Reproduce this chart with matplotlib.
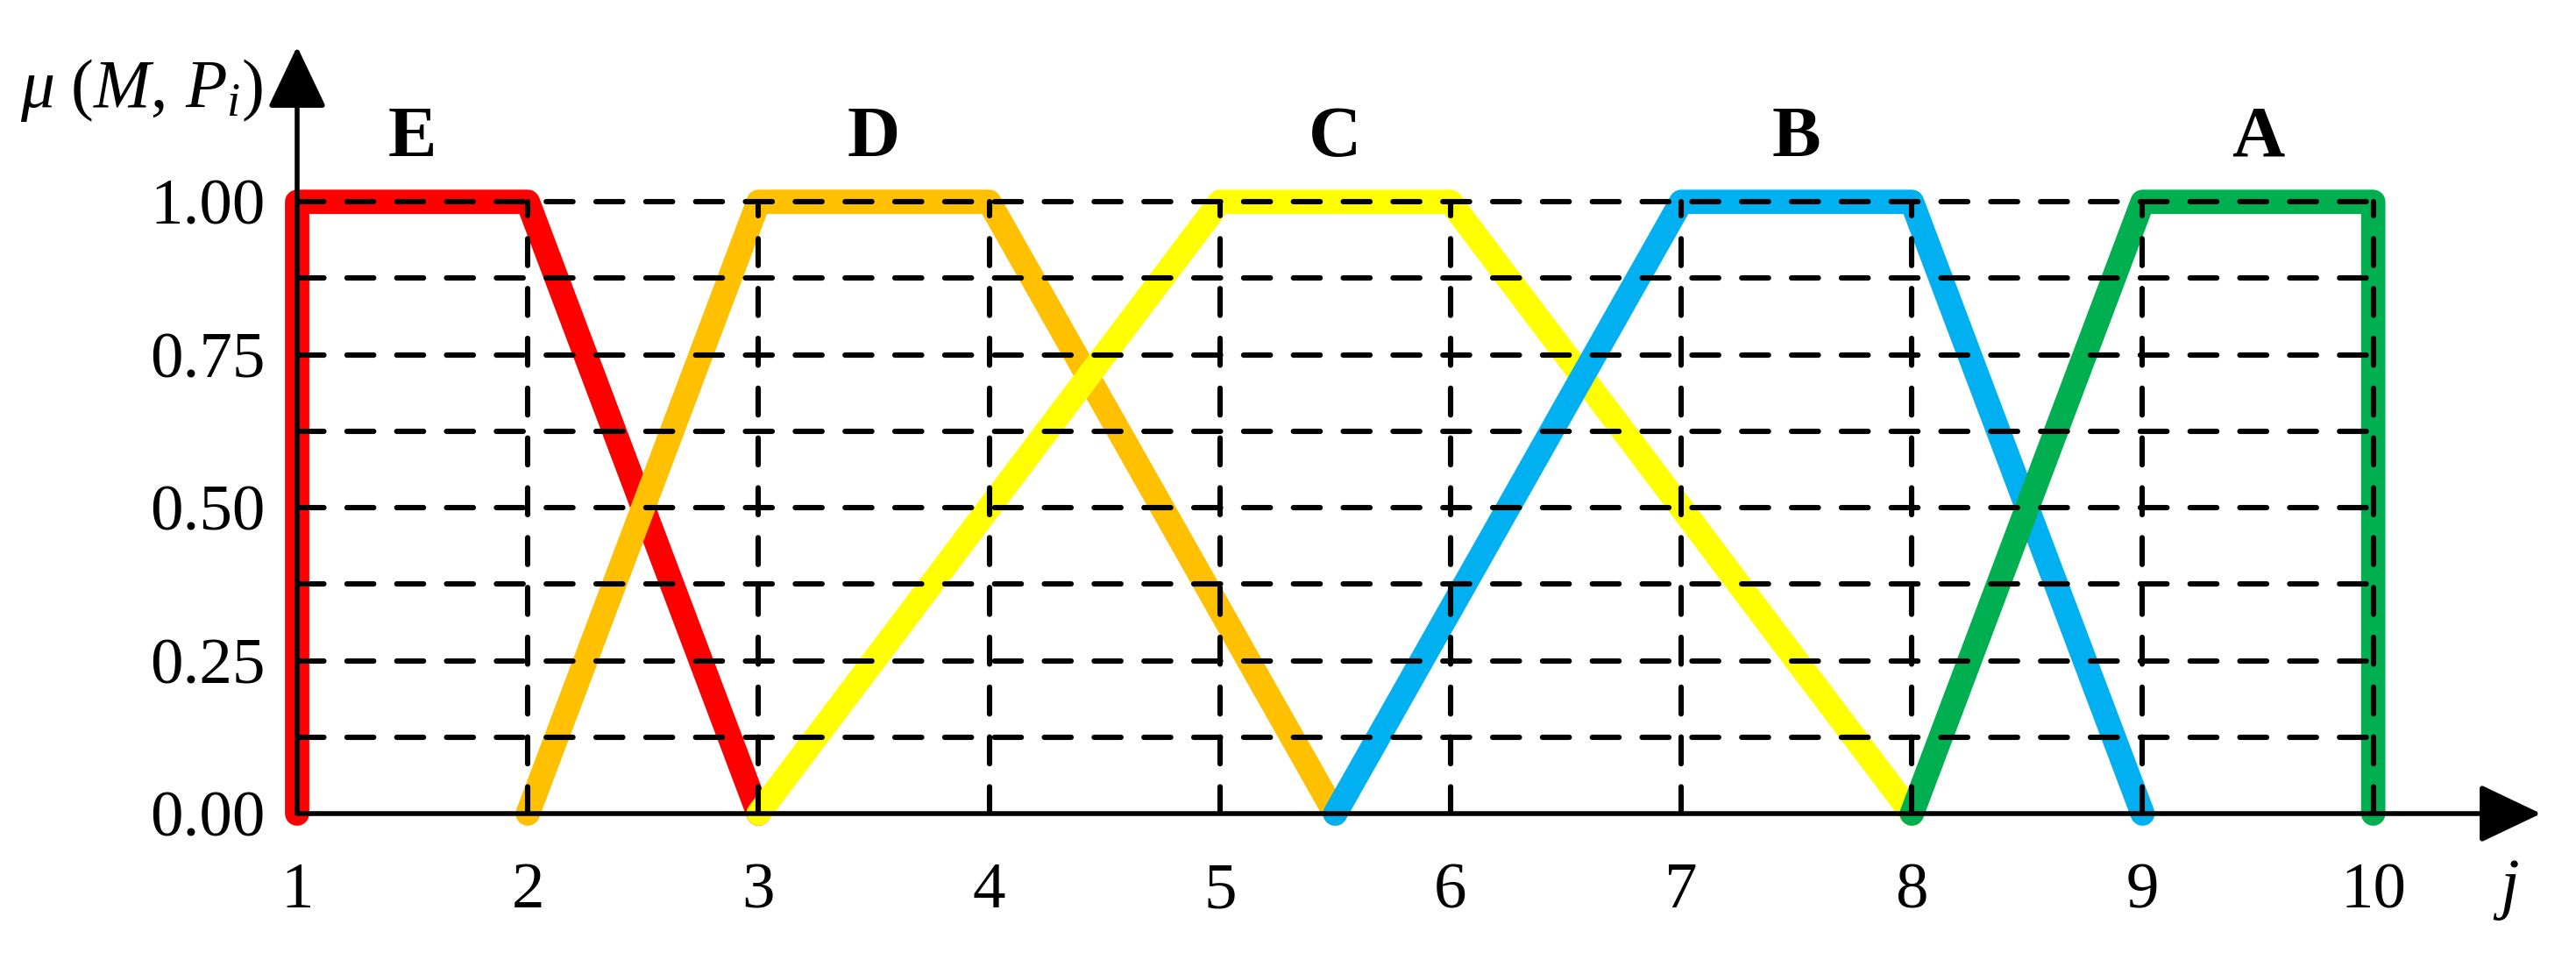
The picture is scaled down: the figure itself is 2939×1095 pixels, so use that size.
import numpy as np
import matplotlib
matplotlib.use('Agg')
import matplotlib.pyplot as plt

plt.rcParams['font.family'] = 'Liberation Serif'
plt.rcParams['mathtext.fontset'] = 'custom'
plt.rcParams['mathtext.rm'] = 'Liberation Serif'
plt.rcParams['mathtext.it'] = 'Liberation Serif:italic'

# membership functions of the five grades
grades = ['E', 'D', 'C', 'B', 'A']
grade_x = [[1, 1, 2, 3],
           [2, 3, 4, 5.5],
           [3, 5, 6, 8],
           [5.5, 7, 8, 9],
           [8, 9, 10, 10]]
grade_y = [[0, 1, 1, 0],
           [0, 1, 1, 0],
           [0, 1, 1, 0],
           [0, 1, 1, 0],
           [0, 1, 1, 0]]
grade_colors = ['#FF0000', '#FFC000', '#FFFF00', '#00B0F0', '#00B050']
label_x = [1.5, 3.5, 5.5, 7.5, 9.5]
draw_order = [2, 3, 1, 0, 4]

j_ticks = [1, 2, 3, 4, 5, 6, 7, 8, 9, 10]
mu_ticks = [0.0, 0.25, 0.50, 0.75, 1.00]
grid_h = [0.125, 0.25, 0.375, 0.5, 0.625, 0.75, 0.875, 1.0]
grid_v = [2, 3, 4, 5, 6, 7, 8, 9, 10]

W, H = 2939, 1095
fig = plt.figure(figsize=(W / 200, H / 200), dpi=200)
ax = fig.add_axes([339 / W, 1 - 928 / H, (2899 - 339) / W, (928 - 53) / H])
ax.set_xlim(1, 10.727)
ax.set_ylim(0, 1.254)

for k in draw_order:
    ax.plot(grade_x[k], grade_y[k], color=grade_colors[k], lw=10,
            solid_capstyle='round', solid_joinstyle='round', zorder=2 + k * 0.1,
            clip_on=False)
    ax.text(label_x[k], 1.103, grades[k], fontsize=30, fontweight='bold',
            ha='center', va='center')

dash = (0, (5.0, 4.3))
for y in grid_h:
    ax.plot([1, 10], [y, y], color='black', lw=2.2, linestyle=dash,
            dash_capstyle='round', zorder=4)
for x in grid_v:
    ax.plot([x, x], [0, 1], color='black', lw=2.2, linestyle=dash,
            dash_capstyle='round', zorder=4)

for s in ax.spines.values():
    s.set_visible(False)

arrow = dict(arrowstyle='-|>,head_length=0.42,head_width=0.2', mutation_scale=52,
             lw=2.0, color='black', shrinkA=0, shrinkB=0)
ax.annotate('', xy=(10.727, 0), xytext=(1, 0), arrowprops=arrow,
            annotation_clip=False, zorder=5)
ax.annotate('', xy=(1, 1.254), xytext=(1, 0), arrowprops=arrow,
            annotation_clip=False, zorder=5)

ax.set_xticks(j_ticks)
ax.set_xticklabels([str(t) for t in j_ticks])
ax.set_yticks(mu_ticks)
ax.set_yticklabels(['%.2f' % t for t in mu_ticks])
ax.tick_params(axis='x', length=0, pad=20, labelsize=27)
ax.tick_params(axis='y', length=0, pad=13, labelsize=27)

fig.text(300 / W, 1 - 103 / H, r'$\mu\ (M,\,P_i)$', fontsize=28,
         ha='right', va='center')
fig.text(2859 / W, 1 - 1016 / H, r'$j$', fontsize=28, ha='center', va='center')

fig.savefig('out.png', dpi=200)
